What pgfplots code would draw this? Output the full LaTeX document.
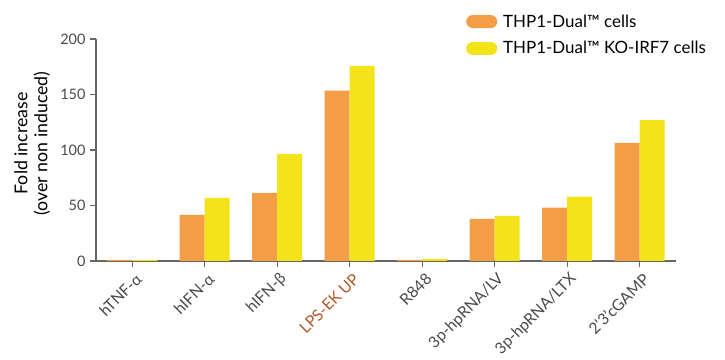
\documentclass[border=0pt]{standalone}
\usepackage{pgfplots}
\pgfplotsset{compat=1.18}
\usepackage{fontspec}
\setmainfont{Lato}
\definecolor{barorange}{HTML}{F49D47}
\definecolor{baryellow}{HTML}{F2E31B}
\definecolor{axisgray}{HTML}{666666}
\definecolor{ticktext}{HTML}{4A4A4A}
\definecolor{lpscol}{HTML}{B5562A}
\begin{document}
\begin{tikzpicture}
\useasboundingbox (0,0) rectangle (725bp,360bp);
\begin{axis}[
  at={(96bp,99bp)}, anchor=south west,
  scale only axis, width=580bp, height=222bp,
  xmin=-0.5, xmax=7.5, ymin=0, ymax=200,
  axis lines=left, axis line style={axisgray, line width=1.2bp, -},
  ybar=0pt, bar width=25bp,
  xtick=data,
  xticklabels={hTNF-α, hIFN-α, hIFN-β, {\color{lpscol}LPS-EK UP}, R848, 3p-hpRNA/LV, 3p-hpRNA/LTX, 2'3'cGAMP},
  ytick={0,50,100,150,200},
  tick align=outside, major tick length=6bp,
  tick style={axisgray, line width=1.2bp},
  x tick label style={xshift=9bp, yshift=-7bp, rotate=45, anchor=east, font=\fontsize{15.8}{17}\selectfont, text=ticktext},
  y tick label style={font=\fontsize{14.5}{15}\selectfont, text=ticktext, xshift=-1bp},
  /pgf/number format/assume math mode=true,
  ylabel={Fold increase\\(over non induced)},
  ylabel style={at={(rel axis cs:-0.11,0.53)}, anchor=center, align=center, font=\fontsize{17.8}{20}\selectfont},
  legend style={at={(rel axis cs:0.638,1.12)}, anchor=north west, draw=none, fill=none,
    font=\fontsize{17}{20}\selectfont, row sep=9bp, inner sep=0pt,
    nodes={inner xsep=6bp}},
  legend cell align=left,
  legend image code/.code={\path[#1] (6.5bp,-6.5bp) -- (24.5bp,-6.5bp) arc[start angle=-90, end angle=90, radius=6.5bp] -- (6.5bp,6.5bp) arc[start angle=90, end angle=270, radius=6.5bp] -- cycle;},
]
\addplot[fill=barorange, draw=none] coordinates {(0,1) (1,41.5) (2,61.3) (3,153.4) (4,1) (5,38) (6,48) (7,106.5)};
\addplot[fill=baryellow, draw=none] coordinates {(0,1) (1,56.8) (2,96.5) (3,175.9) (4,2) (5,40.6) (6,58) (7,127)};
\legend{THP1-Dual™ cells, THP1-Dual™ KO-IRF7 cells}
\end{axis}
\end{tikzpicture}
\end{document}
